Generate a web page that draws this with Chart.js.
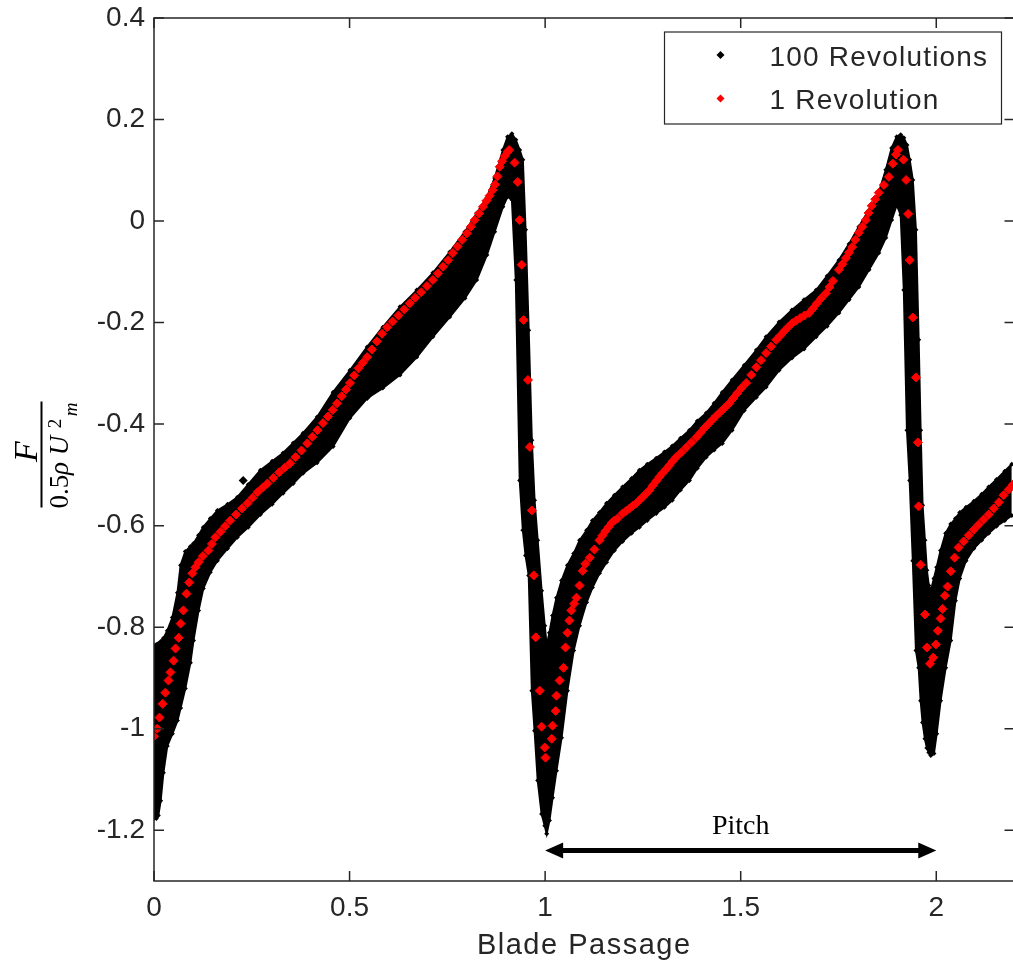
<!DOCTYPE html>
<html>
<head>
<meta charset="utf-8">
<script src="https://cdn.jsdelivr.net/npm/chart.js@4.4.0/dist/chart.umd.min.js"></script>
<style>
  html, body { margin: 0; padding: 0; background: #fff; overflow: hidden; }
  #wrap { width: 1020px; height: 965px; }
</style>
</head>
<body>
<div id="wrap"><canvas id="chart" width="1020" height="965"></canvas></div>
<script>
// axis limits and tick values
const xMin = 0, xMax = 2.2;
const yMin = -1.3, yMax = 0.4;
const xTicks = [0, 0.5, 1, 1.5, 2];
const yTicks = [0.4, 0.2, 0, -0.2, -0.4, -0.6, -0.8, -1, -1.2];

// 100 Revolutions: upper / lower edge of the black point cloud
const bandX = [
  0.000, 0.006, 0.011, 0.017, 0.024, 0.034, 0.047, 0.060, 0.068, 0.080,
  0.093, 0.101, 0.114, 0.126, 0.144, 0.162, 0.188, 0.213, 0.241, 0.272,
  0.302, 0.330, 0.356, 0.381, 0.417, 0.458, 0.501, 0.545, 0.585, 0.629,
  0.672, 0.713, 0.756, 0.795, 0.825, 0.851, 0.871, 0.892, 0.904, 0.915,
  0.925, 0.935, 0.943, 0.950, 0.958, 0.966, 0.973, 0.981, 0.991, 0.999,
  1.004, 1.011, 1.019, 1.029, 1.042, 1.057, 1.073, 1.088, 1.106, 1.121,
  1.139, 1.157, 1.177, 1.198, 1.221, 1.241, 1.261, 1.284, 1.305, 1.325,
  1.346, 1.369, 1.389, 1.412, 1.432, 1.453, 1.478, 1.509, 1.540, 1.565,
  1.598, 1.631, 1.662, 1.693, 1.721, 1.751, 1.777, 1.802, 1.828, 1.853,
  1.871, 1.886, 1.899, 1.909, 1.917, 1.925, 1.932, 1.940, 1.948, 1.955,
  1.960, 1.965, 1.971, 1.976, 1.981, 1.986, 1.994, 2.001, 2.011, 2.024,
  2.037, 2.049, 2.060, 2.076, 2.096, 2.116, 2.134, 2.154, 2.175, 2.193
];
const bandTop = [
  -0.836, -0.834, -0.832, -0.828, -0.822, -0.807, -0.781, -0.732, -0.678, -0.651,
  -0.641, -0.635, -0.619, -0.603, -0.586, -0.570, -0.558, -0.544, -0.519, -0.491,
  -0.473, -0.457, -0.437, -0.418, -0.386, -0.337, -0.294, -0.248, -0.209, -0.169,
  -0.136, -0.102, -0.061, -0.021, 0.016, 0.046, 0.085, 0.140, 0.166, 0.172,
  0.160, 0.140, 0.121, -0.017, -0.215, -0.432, -0.550, -0.629, -0.728, -0.797,
  -0.836, -0.811, -0.777, -0.742, -0.708, -0.678, -0.655, -0.629, -0.609, -0.590,
  -0.574, -0.556, -0.540, -0.524, -0.507, -0.491, -0.479, -0.467, -0.455, -0.443,
  -0.428, -0.412, -0.394, -0.378, -0.359, -0.337, -0.313, -0.284, -0.254, -0.228,
  -0.199, -0.175, -0.155, -0.136, -0.108, -0.077, -0.045, -0.011, 0.022, 0.056,
  0.101, 0.144, 0.166, 0.170, 0.164, 0.150, 0.121, 0.081, -0.017, -0.234,
  -0.412, -0.560, -0.629, -0.688, -0.718, -0.728, -0.704, -0.682, -0.649, -0.615,
  -0.597, -0.586, -0.574, -0.564, -0.552, -0.538, -0.524, -0.509, -0.493, -0.479
];
const bandBottom = [
  -1.177, -1.177, -1.171, -1.142, -1.087, -1.034, -1.010, -0.984, -0.959, -0.921,
  -0.870, -0.826, -0.767, -0.724, -0.692, -0.669, -0.645, -0.623, -0.603, -0.578,
  -0.558, -0.536, -0.517, -0.497, -0.476, -0.444, -0.388, -0.349, -0.329, -0.303,
  -0.268, -0.228, -0.189, -0.152, -0.116, -0.067, -0.021, 0.028, 0.048, 0.042,
  -0.116, -0.511, -0.609, -0.659, -0.698, -0.925, -1.004, -1.102, -1.168, -1.191,
  -1.207, -1.181, -1.136, -1.083, -1.018, -0.925, -0.846, -0.797, -0.751, -0.722,
  -0.694, -0.672, -0.649, -0.631, -0.615, -0.603, -0.590, -0.576, -0.564, -0.550,
  -0.530, -0.511, -0.487, -0.465, -0.451, -0.438, -0.412, -0.373, -0.347, -0.327,
  -0.294, -0.270, -0.252, -0.228, -0.207, -0.181, -0.155, -0.130, -0.096, -0.063,
  -0.033, 0.002, 0.032, 0.012, -0.136, -0.412, -0.511, -0.669, -0.846, -0.880,
  -0.945, -0.988, -1.020, -1.038, -1.047, -1.053, -1.049, -1.010, -0.945, -0.880,
  -0.826, -0.748, -0.704, -0.669, -0.645, -0.629, -0.615, -0.601, -0.590, -0.580
];
// stray samples lying outside the band
const strayX = [0.228, 0.545];
const strayY = [-0.511, -0.345];

// 1 Revolution
const revX = [
  0.000, 0.008, 0.014, 0.022, 0.029, 0.037, 0.042, 0.050, 0.055, 0.063,
  0.068, 0.075, 0.083, 0.090, 0.098, 0.106, 0.114, 0.125, 0.139, 0.148,
  0.157, 0.170, 0.182, 0.195, 0.210, 0.225, 0.239, 0.252, 0.265, 0.278,
  0.290, 0.305, 0.320, 0.334, 0.348, 0.362, 0.377, 0.392, 0.405, 0.418,
  0.432, 0.445, 0.457, 0.468, 0.480, 0.491, 0.501, 0.512, 0.523, 0.534,
  0.545, 0.557, 0.570, 0.583, 0.596, 0.610, 0.625, 0.640, 0.654, 0.668,
  0.683, 0.698, 0.713, 0.726, 0.739, 0.752, 0.764, 0.776, 0.788, 0.800,
  0.810, 0.820, 0.831, 0.841, 0.850, 0.858, 0.866, 0.872, 0.878, 0.884,
  0.890, 0.897, 0.904, 0.908,
  0.922, 0.930, 0.935, 0.940, 0.945, 0.956, 0.961, 0.966, 0.971, 0.976,
  0.986, 0.991, 0.999, 1.001, 1.017, 1.019, 1.027, 1.029, 1.037, 1.047,
  1.052, 1.057,
  1.062, 1.067, 1.074, 1.080, 1.088, 1.096, 1.103, 1.114, 1.126, 1.139,
  1.146, 1.154, 1.162, 1.170, 1.177, 1.185, 1.198, 1.207, 1.216, 1.224,
  1.233, 1.241, 1.249, 1.258, 1.267, 1.275, 1.284, 1.292, 1.300, 1.309,
  1.318, 1.326, 1.335, 1.348, 1.361, 1.374, 1.387, 1.397, 1.407, 1.417,
  1.427, 1.437, 1.448, 1.459, 1.471, 1.481, 1.491, 1.502, 1.514, 1.527,
  1.540, 1.552, 1.565, 1.578, 1.591, 1.601, 1.611, 1.621, 1.632, 1.642,
  1.652, 1.663, 1.675, 1.685, 1.695, 1.706, 1.718, 1.727, 1.736, 1.751,
  1.760, 1.769, 1.777, 1.785, 1.793, 1.802, 1.811, 1.820, 1.827, 1.835,
  1.844, 1.853, 1.866, 1.879, 1.889, 1.897, 1.902,
  1.916, 1.923, 1.928, 1.932, 1.940, 1.948, 1.953, 1.955, 1.960, 1.971,
  1.976, 1.984, 1.992, 1.999, 2.004, 2.011, 2.016, 2.022, 2.029, 2.037,
  2.047, 2.057, 2.070, 2.083, 2.096, 2.108, 2.121, 2.134, 2.147, 2.160,
  2.172, 2.185, 2.196
];
const revY = [
  -1.015, -1.000, -0.978, -0.951, -0.929, -0.905, -0.889, -0.866, -0.842, -0.821,
  -0.793, -0.767, -0.734, -0.712, -0.694, -0.682, -0.672, -0.660, -0.649, -0.636,
  -0.623, -0.612, -0.601, -0.590, -0.578, -0.566, -0.556, -0.545, -0.534, -0.525,
  -0.517, -0.506, -0.495, -0.486, -0.477, -0.465, -0.452, -0.438, -0.425, -0.412,
  -0.398, -0.385, -0.372, -0.359, -0.345, -0.332, -0.319, -0.304, -0.290, -0.279,
  -0.268, -0.253, -0.237, -0.222, -0.209, -0.198, -0.186, -0.174, -0.162, -0.151,
  -0.140, -0.128, -0.116, -0.103, -0.090, -0.077, -0.063, -0.050, -0.037, -0.024,
  -0.011, 0.002, 0.015, 0.028, 0.040, 0.050, 0.061, 0.072, 0.088, 0.107,
  0.118, 0.128, 0.136, 0.140,
  0.115, 0.077, 0.002, -0.086, -0.195, -0.313, -0.445, -0.570, -0.698, -0.820,
  -0.925, -0.996, -1.037, -1.057, -1.020, -0.994, -0.965, -0.935, -0.905, -0.880,
  -0.840, -0.811,
  -0.787, -0.767, -0.754, -0.742, -0.718, -0.689, -0.675, -0.663, -0.647, -0.629,
  -0.620, -0.611, -0.603, -0.595, -0.590, -0.586, -0.576, -0.571, -0.566, -0.561,
  -0.556, -0.550, -0.544, -0.537, -0.530, -0.521, -0.512, -0.504, -0.497, -0.489,
  -0.481, -0.473, -0.465, -0.456, -0.446, -0.436, -0.426, -0.417, -0.408, -0.400,
  -0.392, -0.384, -0.376, -0.368, -0.359, -0.349, -0.339, -0.329, -0.319, -0.303,
  -0.288, -0.274, -0.260, -0.247, -0.234, -0.226, -0.217, -0.209, -0.201, -0.196,
  -0.191, -0.186, -0.181, -0.172, -0.162, -0.152, -0.142, -0.130, -0.118, -0.096,
  -0.085, -0.073, -0.062, -0.051, -0.037, -0.023, -0.011, 0.002, 0.016, 0.030,
  0.043, 0.056, 0.071, 0.087, 0.113, 0.131, 0.140,
  0.121, 0.081, 0.014, -0.077, -0.190, -0.308, -0.436, -0.562, -0.677, -0.775,
  -0.840, -0.872, -0.860, -0.834, -0.807, -0.783, -0.764, -0.738, -0.720, -0.690,
  -0.663, -0.643, -0.631, -0.619, -0.608, -0.598, -0.588, -0.578, -0.566, -0.554,
  -0.540, -0.529, -0.519
];

// pitch marker (one blade passage)
const pitchFrom = 1, pitchTo = 2, pitchY = -1.24;
const pitchLabel = 'Pitch';
const xTitle = 'Blade Passage';

const axisColor = '#262626';
const textColor = '#262626';

const toPoints = (xs, ys) => xs.map((x, i) => ({ x: x, y: ys[i] }));

function diamond(ctx, x, y, r) {
  ctx.beginPath();
  ctx.moveTo(x, y - r);
  ctx.lineTo(x + r, y);
  ctx.lineTo(x, y + r);
  ctx.lineTo(x - r, y);
  ctx.closePath();
  ctx.fill();
}

// MATLAB style box with inward ticks on all four sides
const boxAxes = {
  id: 'boxAxes',
  afterDatasetsDraw(chart) {
    const { ctx, chartArea: a, scales } = chart;
    ctx.save();
    ctx.strokeStyle = axisColor;
    ctx.lineWidth = 1.5;
    ctx.strokeRect(a.left, a.top, a.right - a.left, a.bottom - a.top);
    ctx.beginPath();
    xTicks.forEach(v => {
      const px = scales.x.getPixelForValue(v);
      ctx.moveTo(px, a.bottom); ctx.lineTo(px, a.bottom - 10);
      ctx.moveTo(px, a.top); ctx.lineTo(px, a.top + 10);
    });
    yTicks.forEach(v => {
      const py = scales.y.getPixelForValue(v);
      ctx.moveTo(a.left, py); ctx.lineTo(a.left + 10, py);
      ctx.moveTo(a.right, py); ctx.lineTo(a.right - 10, py);
    });
    ctx.stroke();
    ctx.restore();
  }
};

// pitch arrow + label
const pitchArrow = {
  id: 'pitchArrow',
  afterDatasetsDraw(chart) {
    const { ctx, scales } = chart;
    const x1 = scales.x.getPixelForValue(pitchFrom);
    const x2 = scales.x.getPixelForValue(pitchTo);
    const y = scales.y.getPixelForValue(pitchY);
    const head = 18, half = 8;
    ctx.save();
    ctx.strokeStyle = '#000';
    ctx.fillStyle = '#000';
    ctx.lineWidth = 5;
    ctx.beginPath();
    ctx.moveTo(x1 + head - 2, y); ctx.lineTo(x2 - head + 2, y);
    ctx.stroke();
    ctx.beginPath();
    ctx.moveTo(x1, y); ctx.lineTo(x1 + head, y - half); ctx.lineTo(x1 + head, y + half); ctx.closePath();
    ctx.moveTo(x2, y); ctx.lineTo(x2 - head, y - half); ctx.lineTo(x2 - head, y + half); ctx.closePath();
    ctx.fill();
    ctx.font = '28px "Liberation Serif"';
    ctx.textAlign = 'center';
    ctx.textBaseline = 'alphabetic';
    ctx.fillText(pitchLabel, (x1 + x2) / 2, y - 17);
    ctx.restore();
  }
};

// axis titles: x in sans, y as the fraction F / (0.5 rho U_m^2)
const axisTitles = {
  id: 'axisTitles',
  afterDraw(chart) {
    const { ctx, chartArea: a } = chart;
    ctx.save();
    ctx.fillStyle = textColor;
    ctx.font = '29px "Liberation Sans"';
    ctx.letterSpacing = '1.5px';
    ctx.textAlign = 'center';
    ctx.textBaseline = 'alphabetic';
    ctx.fillText(xTitle, (a.left + a.right) / 2, 954);
    ctx.letterSpacing = '0px';

    ctx.translate(42, (a.top + a.bottom) / 2 + 5);
    ctx.rotate(-Math.PI / 2);
    ctx.fillStyle = '#000';
    ctx.strokeStyle = '#000';
    ctx.font = 'italic 34px "Liberation Serif"';
    ctx.fillText('F', 3, -5);
    ctx.lineWidth = 2;
    ctx.beginPath();
    ctx.moveTo(-53, -0.5); ctx.lineTo(53, -0.5);
    ctx.stroke();
    ctx.font = '27px "Liberation Serif"';
    ctx.fillText('0.5', -37, 26);
    ctx.font = 'italic 27px "Liberation Serif"';
    ctx.fillText('\u03C1', -14, 26);
    ctx.fillText('U', 9, 26);
    ctx.font = '19px "Liberation Serif"';
    ctx.fillText('2', 31, 19);
    ctx.font = 'italic 19px "Liberation Serif"';
    ctx.fillText('m', 45, 35);
    ctx.restore();
  }
};

// legend box inside the plot, top right
const boxLegend = {
  id: 'boxLegend',
  afterDraw(chart) {
    const { ctx, chartArea: a } = chart;
    const items = chart.data.datasets
      .filter(d => d.legendRank !== undefined)
      .sort((p, q) => p.legendRank - q.legendRank);
    const left = a.right - 350, top = a.top + 14, w = 337, h = 92;
    ctx.save();
    ctx.fillStyle = '#fff';
    ctx.fillRect(left, top, w, h);
    ctx.strokeStyle = axisColor;
    ctx.lineWidth = 1.2;
    ctx.strokeRect(left, top, w, h);
    ctx.font = '28px "Liberation Sans"';
    ctx.letterSpacing = '1.2px';
    ctx.textBaseline = 'middle';
    ctx.textAlign = 'left';
    items.forEach((d, i) => {
      ctx.fillStyle = d.legendColor;
      diamond(ctx, left + 56, top + 23 + i * 43.5, 4);
      ctx.fillStyle = textColor;
      ctx.fillText(d.label, left + 105, top + 26 + i * 43.5);
    });
    ctx.restore();
  }
};

const tickFont = { family: 'Liberation Sans', size: 28 };

new Chart(document.getElementById('chart'), {
  type: 'scatter',
  data: {
    datasets: [
      {
        label: '1 Revolution',
        legendRank: 1,
        legendColor: '#ff0000',
        data: toPoints(revX, revY),
        pointStyle: 'rectRot',
        pointRadius: 4.5,
        pointBorderWidth: 1,
        backgroundColor: '#ff0000',
        borderColor: '#ff0000',
        order: 0
      },
      {
        type: 'line',
        label: 'band top',
        data: toPoints(bandX, bandTop),
        borderColor: '#000',
        borderWidth: 2,
        pointStyle: 'rectRot',
        pointRadius: 2.5,
        pointBorderWidth: 0,
        pointBackgroundColor: '#000',
        tension: 0,
        fill: false,
        clip: 0,
        order: 1
      },
      {
        type: 'line',
        label: '100 Revolutions',
        legendRank: 0,
        legendColor: '#000',
        data: toPoints(bandX, bandBottom),
        borderColor: '#000',
        borderWidth: 2,
        pointStyle: 'rectRot',
        pointRadius: 2.5,
        pointBorderWidth: 0,
        pointBackgroundColor: '#000',
        backgroundColor: '#000',
        tension: 0,
        fill: '-1',
        clip: 0,
        order: 1
      },
      {
        label: 'stray',
        data: toPoints(strayX, strayY),
        pointStyle: 'rectRot',
        pointRadius: 4.5,
        pointBorderWidth: 0,
        backgroundColor: '#000',
        order: 1
      }
    ]
  },
  options: {
    responsive: false,
    animation: false,
    layout: { padding: { left: 0, top: 18, right: 4, bottom: 0 } },
    plugins: {
      legend: { display: false },
      tooltip: { enabled: false }
    },
    scales: {
      x: {
        type: 'linear',
        min: xMin,
        max: xMax,
        grid: { display: false, drawTicks: false },
        border: { display: false },
        afterBuildTicks: s => { s.ticks = xTicks.map(v => ({ value: v })); },
        afterFit: s => { s.height = 84; s.paddingLeft = 0; s.paddingRight = 0; },
        ticks: {
          padding: 10,
          autoSkip: false,
          maxRotation: 0,
          font: tickFont,
          color: textColor,
          callback: v => String(v)
        }
      },
      y: {
        type: 'linear',
        min: yMin,
        max: yMax,
        grid: { display: false, drawTicks: false },
        border: { display: false },
        afterBuildTicks: s => { s.ticks = yTicks.map(v => ({ value: v })); },
        afterFit: s => { s.width = 154; s.paddingTop = 0; s.paddingBottom = 0; },
        ticks: {
          padding: 9,
          autoSkip: false,
          font: tickFont,
          color: textColor,
          callback: v => String(v)
        }
      }
    }
  },
  plugins: [boxAxes, pitchArrow, axisTitles, boxLegend]
});
</script>
</body>
</html>
